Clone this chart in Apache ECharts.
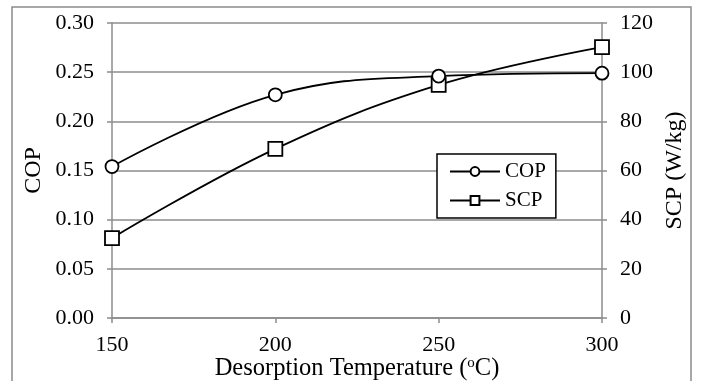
<!DOCTYPE html>
<html>
<head>
<meta charset="utf-8">
<script src="https://cdn.jsdelivr.net/npm/echarts@6/dist/echarts.min.js"></script>
<style>
  html, body { margin: 0; padding: 0; background: #fff; }
  #chart { width: 702px; height: 381px; }
</style>
</head>
<body>
<div id="chart"></div>
<script>
// data
const temps = [150, 200, 250, 300]
const cop = [0.154, 0.227, 0.246, 0.249]
const scp = [32.5, 68.8, 94.8, 110.2]

const font = 'Liberation Serif'
const gridColor = '#8c8c8c'

const chart = echarts.init(document.getElementById('chart'))

const pairs = (xs, ys) => xs.map((x, i) => [x, ys[i]])

chart.setOption({
	animation: false,
	textStyle: { fontFamily: font, color: '#000' },
	// outer frame
	graphic: [
		{
			type: 'rect',
			shape: { x: 12, y: 7, width: 679, height: 390 },
			style: { fill: 'none', stroke: '#8c8c8c', lineWidth: 1.5 },
			silent: true,
		},
	],
	// keep the plot box fixed, names may sit close to the edge
	grid: { left: 112, right: 100, top: 23, bottom: 63, outerBoundsMode: 'none' },
	legend: {
		orient: 'vertical',
		left: 437,
		top: 154,
		padding: [7, 10, 7, 12],
		itemGap: 8,
		itemWidth: 50,
		itemHeight: 11,
		borderColor: '#000',
		borderWidth: 1.5,
		backgroundColor: '#fff',
		textStyle: { fontFamily: font, fontSize: 21, color: '#000' },
		data: ['COP', 'SCP'],
	},
	xAxis: {
		type: 'value',
		min: 150,
		max: 300,
		interval: 50,
		name: '{a|Desorption Temperature (}{s|o}{a|C)}',
		nameLocation: 'middle',
		nameGap: 38,
		nameMoveOverlap: false,
		nameTextStyle: {
			rich: {
				a: { fontFamily: font, fontSize: 24.5, color: '#000' },
				s: { fontFamily: font, fontSize: 15, color: '#000', verticalAlign: 'top', padding: [0, 0, 9, 0] },
			},
		},
		axisLine: { lineStyle: { color: gridColor, width: 1.5 } },
		axisTick: { show: true, length: 5, lineStyle: { color: gridColor, width: 1.5 } },
		axisLabel: { fontFamily: font, fontSize: 22, color: '#000', margin: 16 },
		splitLine: { show: false },
	},
	yAxis: [
		{
			type: 'value',
			min: 0,
			max: 0.3,
			interval: 0.05,
			name: 'COP',
			nameLocation: 'middle',
			nameGap: 66,
			nameMoveOverlap: false,
			nameTextStyle: { fontFamily: font, fontSize: 24, color: '#000' },
			axisLine: { show: true, lineStyle: { color: gridColor, width: 1.5 } },
			axisTick: { show: true, length: 5, lineStyle: { color: gridColor, width: 1.5 } },
			axisLabel: {
				fontFamily: font,
				fontSize: 22,
				color: '#000',
				margin: 18,
				formatter: v => v.toFixed(2),
			},
			splitLine: { lineStyle: { color: gridColor, width: 1.5 } },
		},
		{
			type: 'value',
			min: 0,
			max: 120,
			interval: 20,
			name: 'SCP (W/kg)',
			nameLocation: 'middle',
			nameGap: 61,
			nameRotate: 90,
			nameMoveOverlap: false,
			nameTextStyle: { fontFamily: font, fontSize: 24, color: '#000' },
			axisLine: { show: true, lineStyle: { color: gridColor, width: 1.5 } },
			axisTick: { show: true, length: 5, lineStyle: { color: gridColor, width: 1.5 } },
			axisLabel: { fontFamily: font, fontSize: 22, color: '#000', margin: 18 },
			splitLine: { show: false },
		},
	],
	series: [
		{
			name: 'COP',
			type: 'line',
			yAxisIndex: 0,
			data: pairs(temps, cop),
			smooth: 0.4,
			symbol: 'circle',
			symbolSize: 13,
			lineStyle: { color: '#000', width: 1.8 },
			itemStyle: { color: '#fff', borderColor: '#000', borderWidth: 1.8 },
			z: 3,
		},
		{
			name: 'SCP',
			type: 'line',
			yAxisIndex: 1,
			data: pairs(temps, scp),
			smooth: 0.4,
			symbol: 'rect',
			symbolSize: 14,
			lineStyle: { color: '#000', width: 1.8 },
			itemStyle: { color: '#fff', borderColor: '#000', borderWidth: 1.8 },
			z: 2,
		},
	],
})
</script>
</body>
</html>
